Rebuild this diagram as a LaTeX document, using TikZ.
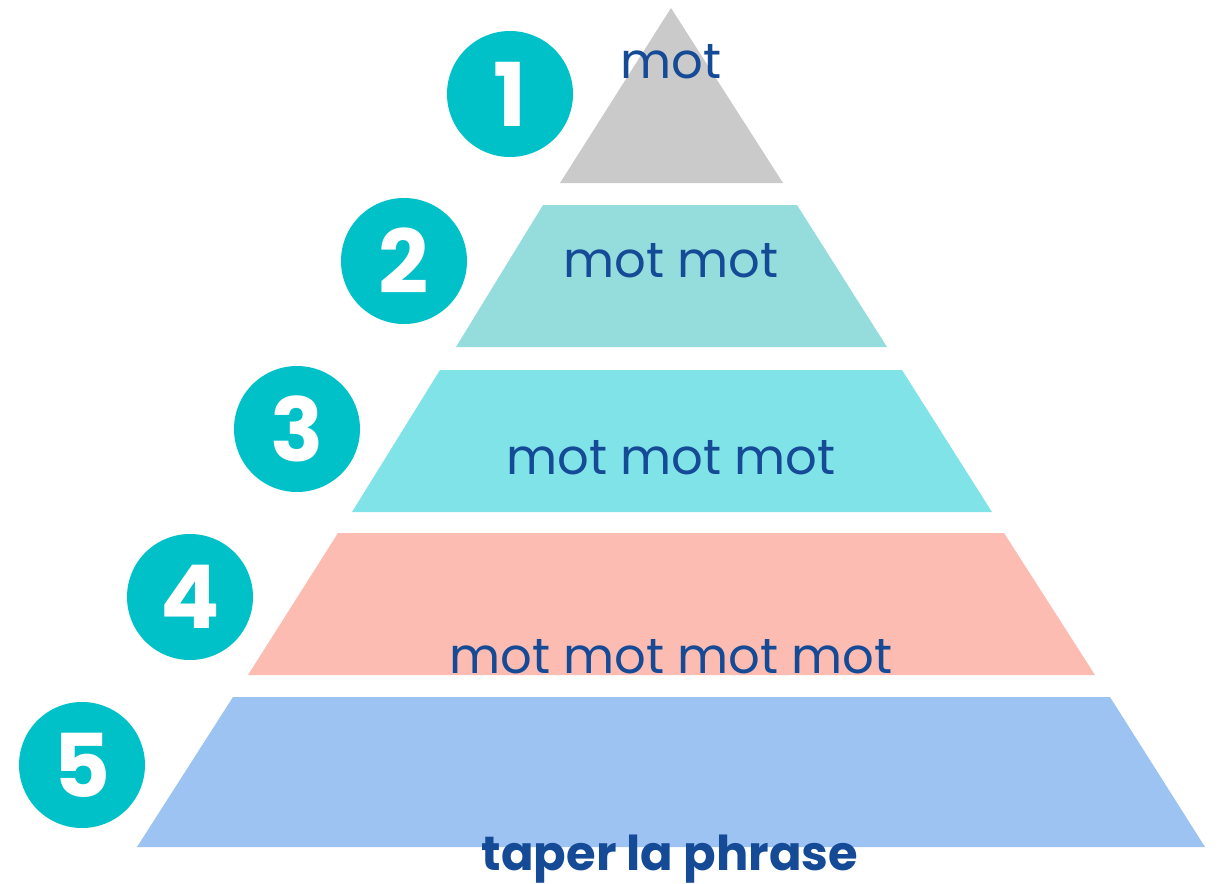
\documentclass[tikz,border=0pt]{standalone}
\usepackage{fontspec}
\setmainfont{Poppins}
\definecolor{txtblue}{RGB}{20,74,150}
\definecolor{lay1}{RGB}{202,202,202}
\definecolor{lay2}{RGB}{149,221,221}
\definecolor{lay3}{RGB}{128,227,231}
\definecolor{lay4}{RGB}{253,188,177}
\definecolor{lay5}{RGB}{157,195,243}
\definecolor{badge}{RGB}{0,192,200}
\tikzset{
  lbl/.style={anchor=base, text=txtblue, font=\fontsize{24.8}{28}\selectfont, inner sep=0pt},
  numbadge/.style={circle, fill=badge, minimum size=63pt, inner sep=0pt, text=white,
    font=\fontsize{44}{44}\selectfont\bfseries}
}
\begin{document}
\begin{tikzpicture}[x=0.5pt,y=-0.5pt]
\useasboundingbox (0,0) rectangle (1222,884);
% layers
\fill[lay1] (671,8) -- (783,183) -- (560,183) -- cycle;
\fill[lay2] (543,205) -- (797,205) -- (887,347) -- (456,347) -- cycle;
\fill[lay3] (440,370) -- (902,370) -- (992,512) -- (352,512) -- cycle;
\fill[lay4] (338,533) -- (1004,533) -- (1095,675) -- (248,675) -- cycle;
\fill[lay5] (233,697) -- (1110,697) -- (1205,847) -- (137,847) -- cycle;
% badges
\node[numbadge] (b1) at (510,94) {1};
\node[numbadge] (b2) at (404,261) {2};
\node[numbadge] (b3) at (297,429) {3};
\node[numbadge] (b4) at (190,597) {4};
\node[numbadge] (b5) at (82,765) {5};
% labels
\node[lbl] (t1) at (671,78) {mot};
\node[lbl] (t2) at (671,277) {mot mot};
\node[lbl] (t3) at (671,474) {mot mot mot};
\node[lbl] (t4) at (671,673) {mot mot mot mot};
\node[lbl, font=\fontsize{24}{28}\selectfont\bfseries] (t5) at (670,870) {taper la phrase};
\end{tikzpicture}
\end{document}
